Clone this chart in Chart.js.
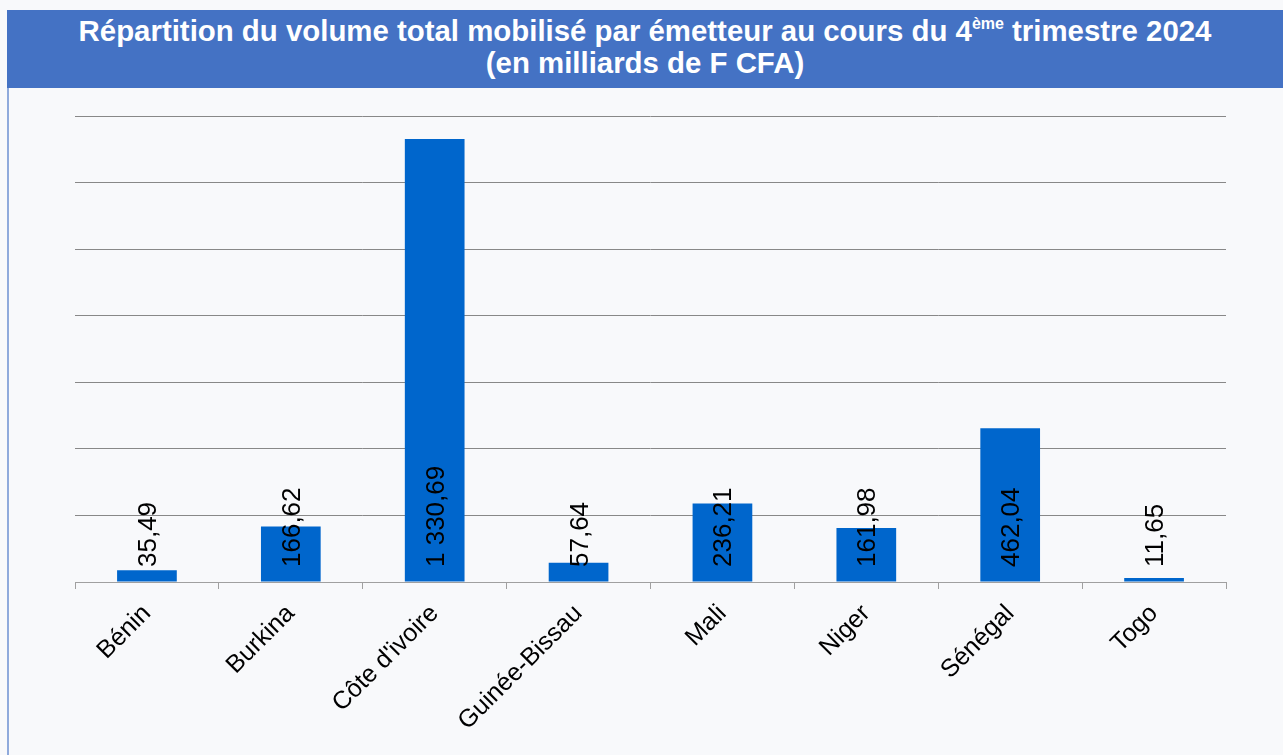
<!DOCTYPE html>
<html>
<head>
<meta charset="utf-8">
<script src="https://cdn.jsdelivr.net/npm/chart.js@4.4.1/dist/chart.umd.min.js"></script>
<style>
  html, body { margin:0; padding:0; width:1283px; height:755px; overflow:hidden; background:#f8f9fb; font-family:"Liberation Sans", Arial, sans-serif; }
  #banner { position:absolute; left:7px; top:10px; width:1276px; height:78px; background:#4472C4; color:#fff; font-weight:bold; font-size:29.4px; text-align:center; line-height:32px; padding-top:5px; box-sizing:border-box; white-space:nowrap; }
  #banner sup { font-size:16px; vertical-align:0; position:relative; top:-12px; line-height:0; }
  #leftline { position:absolute; left:7px; top:88px; width:2px; height:667px; background:#8faadc; }
  #wrap { position:absolute; left:0; top:0; width:1283px; height:755px; }
</style>
</head>
<body>
<div id="wrap"><canvas id="c" width="1283" height="755"></canvas></div>
<div id="banner">Répartition du volume total mobilisé par émetteur au cours du 4<sup>ème</sup> trimestre 2024<br>(en milliards de F CFA)</div>
<div id="leftline"></div>
<script>
const categories = ["Bénin", "Burkina", "Côte d'ivoire", "Guinée-Bissau", "Mali", "Niger", "Sénégal", "Togo"];
const values = [35.49, 166.62, 1330.69, 57.64, 236.21, 161.98, 462.04, 11.65];
const yMax = 1400;
const yStep = 200;

function frFormat(v) {
  const parts = v.toFixed(2).split('.');
  const intPart = parts[0].replace(/\B(?=(\d{3})+(?!\d))/g, ' ');
  return intPart + ',' + parts[1];
}

const labelPlugin = {
  id: 'valueLabels',
  afterDatasetsDraw(chart) {
    const ctx = chart.ctx;
    const meta = chart.getDatasetMeta(0);
    const y0 = chart.scales.y.getPixelForValue(0);
    ctx.save();
    ctx.font = '26px "Liberation Sans", Arial, sans-serif';
    ctx.fillStyle = '#000';
    ctx.textAlign = 'left';
    ctx.textBaseline = 'alphabetic';
    meta.data.forEach((bar, i) => {
      ctx.save();
      ctx.translate(bar.x + 9, y0 - 15);
      ctx.rotate(-Math.PI / 2);
      ctx.fillText(frFormat(values[i]), 0, 0);
      ctx.restore();
    });
    ctx.restore();
  }
};

new Chart(document.getElementById('c'), {
  type: 'bar',
  data: {
    labels: categories,
    datasets: [{
      data: values,
      backgroundColor: '#0066CC',
      borderWidth: 0,
      categoryPercentage: 1.0,
      barPercentage: 0.415
    }]
  },
  options: {
    responsive: false,
    animation: false,
    devicePixelRatio: 1,
    layout: { padding: { left: 75, right: 57, top: 116, bottom: 0 } },
    plugins: { legend: { display: false }, title: { display: false }, tooltip: { enabled: false } },
    scales: {
      x: {
        offset: true,
        afterFit(scale) { scale.height = 173; },
        grid: { display: true, drawOnChartArea: false, drawTicks: true, tickLength: 7, offset: true, color: '#a0a0a0' },
        border: { display: true, color: '#a0a0a0', width: 1 },
        ticks: {
          color: '#000',
          font: { family: '"Liberation Sans", Arial, sans-serif', size: 25 },
          maxRotation: 45, minRotation: 45, padding: 10
        }
      },
      y: {
        min: 0, max: yMax,
        afterFit(scale) { scale.width = 0; },
        ticks: { display: false, stepSize: yStep },
        grid: { color: '#888888', lineWidth: 1, drawTicks: false },
        border: { display: false }
      }
    }
  },
  plugins: [labelPlugin]
});
</script>
</body>
</html>
